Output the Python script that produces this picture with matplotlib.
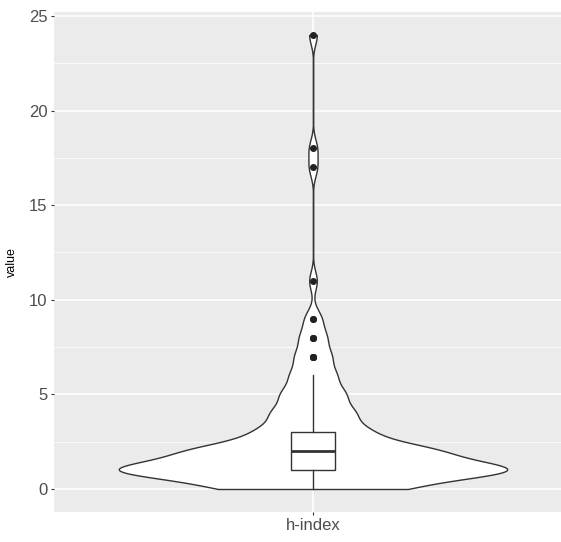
import matplotlib
matplotlib.use("Agg")
import matplotlib.pyplot as plt
import numpy as np
from matplotlib.ticker import MultipleLocator

plt.rcParams['font.family'] = ['Liberation Sans', 'DejaVu Sans']

# h-index values and how many authors have each one
h_values = [0, 1, 2, 3, 4, 5, 6, 7, 8, 9, 11, 17, 18, 24]
counts = [19, 45, 27, 12, 9, 7, 5, 4, 3, 2, 1, 1, 1, 1]
category = "h-index"

data = np.repeat(h_values, counts)

fig = plt.figure(figsize=(5.61, 5.42), dpi=100)
W, H = 561, 542
# panel in pixels: left 54, top 12, bottom 512, right runs past the edge
ax = fig.add_axes([54 / W, (H - 511.7) / H, (W - 54) / W, (511.7 - 12.2) / H])
ax.set_facecolor('#EBEBEB')

# violin (gaussian kernel, bandwidth 0.5, trimmed to the data range)
bw = 0.5 / np.std(data, ddof=1)
parts = ax.violinplot([data], positions=[1], widths=0.9, showextrema=False,
                      bw_method=bw, points=600)
for body in parts['bodies']:
    body.set_facecolor('white')
    body.set_edgecolor('#333333')
    body.set_linewidth(1.0)
    body.set_alpha(1)
    body.set_zorder(2)

ax.boxplot([data], positions=[1], widths=0.1, patch_artist=True,
           showcaps=False, tick_labels=[category],
           boxprops=dict(facecolor='white', edgecolor='#333333', linewidth=1.0),
           medianprops=dict(color='#333333', linewidth=2.0),
           whiskerprops=dict(color='#333333', linewidth=1.0),
           flierprops=dict(marker='o', markerfacecolor='#222222',
                           markeredgecolor='#222222', markersize=4),
           zorder=3)

ax.set_ylim(-1.2, 25.2)
ax.set_xlim(0.4, 0.4 + (W - 54) * 1.2 / (2 * (313 - 54)))
ax.set_yticks(np.arange(0, 26, 5))
ax.yaxis.set_minor_locator(MultipleLocator(2.5))

ax.set_axisbelow(True)
ax.grid(which='major', color='white', linewidth=1.1)
ax.grid(which='minor', axis='y', color='white', linewidth=0.55)
for s in ax.spines.values():
    s.set_visible(False)

ax.tick_params(which='major', length=2.5, width=0.8, color='#333333',
               labelcolor='#4D4D4D', labelsize=12, pad=2)
ax.tick_params(which='minor', length=0)
ax.set_ylabel('value', fontsize=9, color='black', labelpad=8)

fig.savefig('out.png', dpi=100)
